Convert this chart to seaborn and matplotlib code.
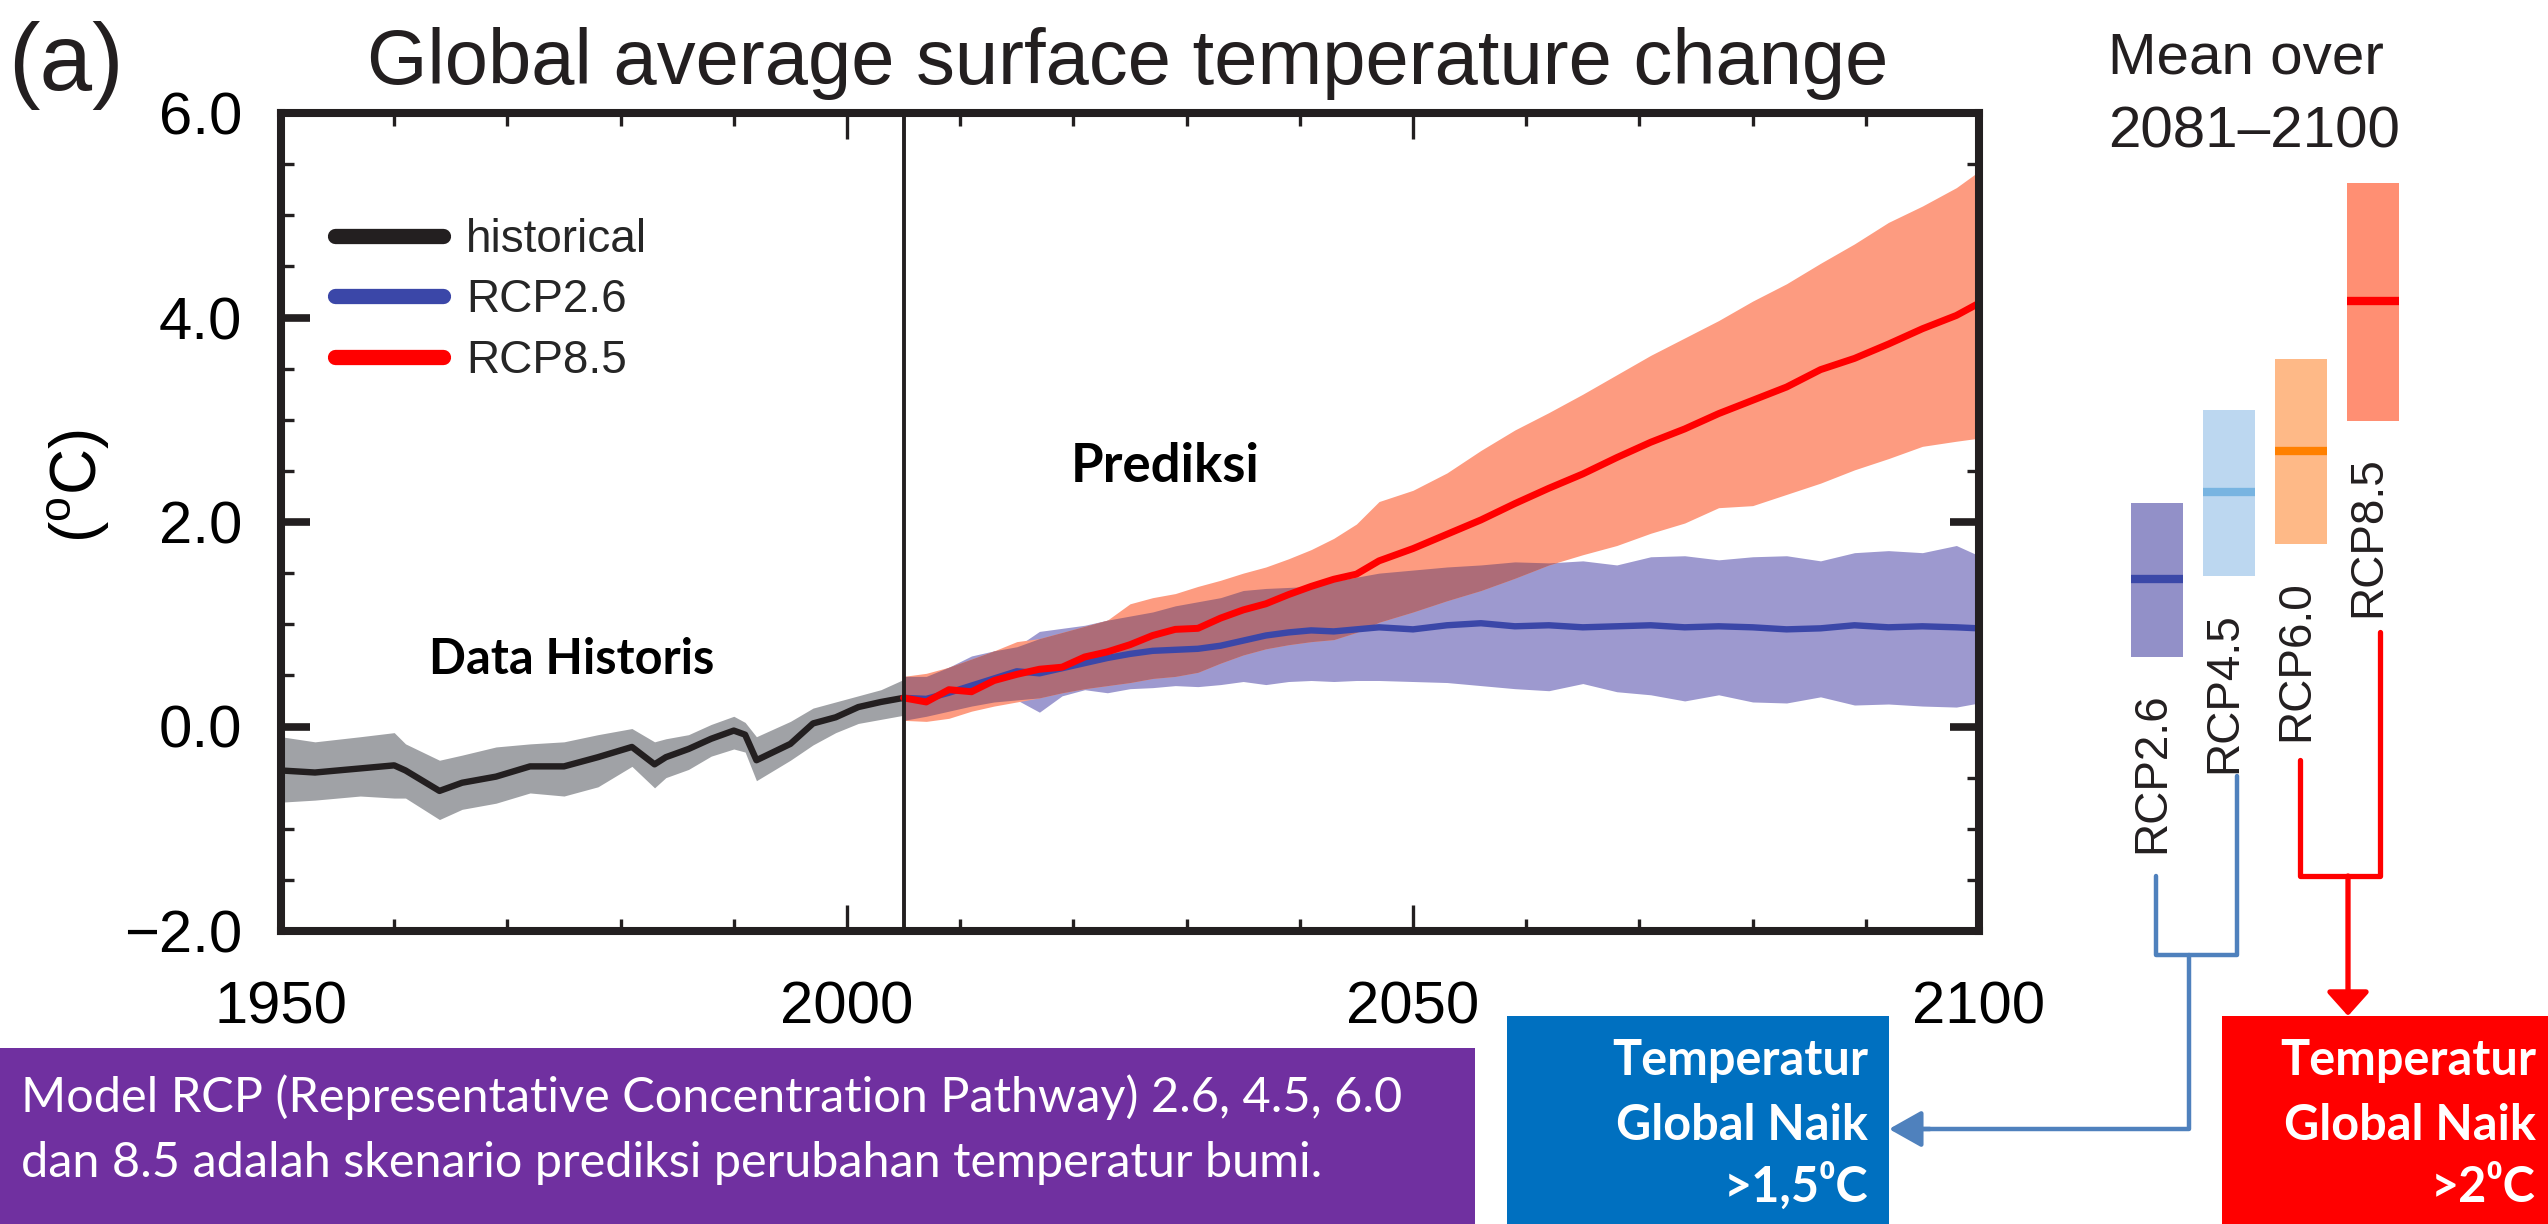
import matplotlib
matplotlib.use("Agg")
import matplotlib.pyplot as plt
from matplotlib.lines import Line2D
from matplotlib.patches import Rectangle
from matplotlib.ticker import MultipleLocator
import numpy as np
import seaborn as sns

# ---- historical (model mean and spread) ----
hist_years = [1950, 1953, 1957, 1960, 1961, 1964, 1966, 1969, 1972, 1975, 1978, 1981, 1983,
              1984, 1986, 1988, 1990, 1991, 1992, 1995, 1997, 1999, 2001, 2003, 2005]
hist_mean = [-0.43, -0.45, -0.41, -0.38, -0.43, -0.63, -0.55, -0.49, -0.39, -0.39, -0.30, -0.20, -0.37,
             -0.30, -0.22, -0.12, -0.04, -0.08, -0.33, -0.17, 0.03, 0.09, 0.19, 0.24, 0.28]
hist_upper = [-0.10, -0.15, -0.10, -0.06, -0.17, -0.33, -0.28, -0.20, -0.17, -0.15, -0.08, -0.02, -0.15,
              -0.12, -0.08, 0.02, 0.10, 0.04, -0.10, 0.05, 0.18, 0.24, 0.30, 0.36, 0.46]
hist_lower = [-0.74, -0.72, -0.68, -0.70, -0.70, -0.91, -0.81, -0.75, -0.65, -0.68, -0.59, -0.39, -0.60,
              -0.50, -0.42, -0.29, -0.22, -0.25, -0.53, -0.33, -0.18, -0.06, 0.03, 0.07, 0.11]

# ---- projections ----
proj_years = [2005, 2007, 2009, 2011, 2013, 2015, 2017, 2019, 2021, 2023, 2025, 2027, 2029, 2031,
              2033, 2035, 2037, 2039, 2041, 2043, 2045, 2047, 2050, 2053, 2056, 2059, 2062, 2065,
              2068, 2071, 2074, 2077, 2080, 2083, 2086, 2089, 2092, 2095, 2098, 2100]
rcp85_mean = [0.28, 0.24, 0.36, 0.34, 0.45, 0.51, 0.56, 0.58, 0.68, 0.73, 0.80, 0.89, 0.95, 0.96,
              1.06, 1.14, 1.20, 1.29, 1.37, 1.44, 1.49, 1.62, 1.74, 1.88, 2.02, 2.18, 2.33, 2.47,
              2.63, 2.78, 2.91, 3.06, 3.19, 3.32, 3.49, 3.60, 3.74, 3.89, 4.02, 4.14]
rcp85_upper = [0.49, 0.52, 0.58, 0.66, 0.74, 0.83, 0.86, 0.92, 0.98, 1.04, 1.20, 1.26, 1.30, 1.37,
               1.43, 1.50, 1.56, 1.64, 1.73, 1.84, 1.98, 2.20, 2.31, 2.48, 2.70, 2.90, 3.07, 3.25,
               3.44, 3.63, 3.80, 3.97, 4.16, 4.33, 4.53, 4.72, 4.93, 5.09, 5.27, 5.43]
rcp85_lower = [0.06, 0.05, 0.08, 0.15, 0.20, 0.24, 0.28, 0.33, 0.37, 0.40, 0.43, 0.47, 0.49, 0.53,
               0.62, 0.70, 0.76, 0.80, 0.83, 0.85, 0.92, 1.02, 1.12, 1.23, 1.33, 1.45, 1.58, 1.68,
               1.77, 1.89, 1.99, 2.14, 2.16, 2.27, 2.38, 2.51, 2.62, 2.74, 2.79, 2.82]
rcp26_mean = [0.28, 0.27, 0.33, 0.40, 0.47, 0.54, 0.52, 0.57, 0.62, 0.67, 0.71, 0.74, 0.75, 0.76,
              0.79, 0.84, 0.89, 0.92, 0.94, 0.93, 0.95, 0.97, 0.95, 0.99, 1.01, 0.98, 0.99, 0.97,
              0.98, 0.99, 0.97, 0.98, 0.97, 0.95, 0.96, 0.99, 0.97, 0.98, 0.97, 0.96]
rcp26_upper = [0.49, 0.49, 0.58, 0.69, 0.74, 0.78, 0.93, 0.96, 0.99, 1.04, 1.08, 1.12, 1.18, 1.22,
               1.26, 1.33, 1.35, 1.36, 1.37, 1.42, 1.46, 1.50, 1.53, 1.56, 1.58, 1.61, 1.60, 1.62,
               1.58, 1.66, 1.67, 1.63, 1.66, 1.67, 1.62, 1.70, 1.72, 1.70, 1.77, 1.67]
rcp26_lower = [0.06, 0.10, 0.15, 0.20, 0.24, 0.26, 0.14, 0.30, 0.36, 0.33, 0.37, 0.38, 0.40, 0.39,
               0.41, 0.44, 0.41, 0.44, 0.45, 0.44, 0.45, 0.45, 0.44, 0.43, 0.40, 0.37, 0.35, 0.42,
               0.34, 0.31, 0.25, 0.31, 0.24, 0.23, 0.29, 0.21, 0.22, 0.20, 0.19, 0.23]

# ---- mean over 2081-2100 ----
scen_names = ["RCP2.6", "RCP4.5", "RCP6.0", "RCP8.5"]
scen_low = [0.68, 1.47, 1.78, 2.99]
scen_high = [2.19, 3.10, 3.59, 5.32]
scen_mean = [1.44, 2.29, 2.69, 4.16]
scen_fill = ["#9290c8", "#bcd7f0", "#feb987", "#ff8f73"]
scen_line = ["#3b48a8", "#78b4e1", "#ff8000", "#ff0000"]

xtick_vals = [1950, 2000, 2050, 2100]
xtick_labels = ["1950", "2000", "2050", "2100"]
ytick_vals = [-2, 0, 2, 4, 6]
ytick_labels = ["\u22122.0", "0.0", "2.0", "4.0", "6.0"]

INK = "#231f20"
W, H = 2548, 1224

sns.set_theme(style="white")
plt.rcParams["font.family"] = ["Liberation Sans", "DejaVu Sans"]
plt.rcParams["mathtext.fontset"] = "custom"
plt.rcParams["mathtext.rm"] = "Liberation Sans"

fig = plt.figure(figsize=(W / 100, H / 100), dpi=100)
ax_rect = [281 / W, (H - 931) / H, 1698 / W, 818 / H]
ax = fig.add_axes(ax_rect)

# bands
ax.fill_between(hist_years, hist_lower, hist_upper, color="#a0a2a6", lw=0)
ax.fill_between(proj_years, rcp26_lower, rcp26_upper, color="#9d99cf", lw=0)
ax.fill_between(proj_years, rcp85_lower, rcp85_upper, color="#fd9b80", lw=0)
ov_lo = np.maximum(rcp26_lower, rcp85_lower)
ov_hi = np.minimum(rcp26_upper, rcp85_upper)
ax.fill_between(proj_years, ov_lo, ov_hi, where=ov_hi > ov_lo, interpolate=True,
                color="#ad6c78", lw=0)

# lines
sns.lineplot(x=hist_years, y=hist_mean, color=INK, lw=4.6, ax=ax, errorbar=None)
sns.lineplot(x=proj_years, y=rcp26_mean, color="#3b47a8", lw=4.6, ax=ax, errorbar=None)
sns.lineplot(x=proj_years, y=rcp85_mean, color="#ff0000", lw=5.0, ax=ax, errorbar=None)
ax.axvline(2005, color=INK, lw=2.8, zorder=5)

ax.set_xlim(1950, 2100)
ax.set_ylim(-2, 6)
ax.set_xticks(xtick_vals)
ax.set_xticklabels(xtick_labels)
ax.set_yticks(ytick_vals)
ax.set_yticklabels(ytick_labels)
ax.xaxis.set_minor_locator(MultipleLocator(10))
ax.yaxis.set_minor_locator(MultipleLocator(0.5))
ax.tick_params(which="both", direction="in", bottom=True, left=True, top=True, right=True,
               colors=INK, labelsize=43, labelcolor="black")
ax.tick_params(axis="y", which="major", length=21, width=5.5, pad=28)
ax.tick_params(axis="x", which="major", length=19, width=2.4, pad=36)
ax.tick_params(which="minor", length=9, width=2.4)
for s in ax.spines.values():
    s.set_linewidth(5.8)
    s.set_color(INK)
    s.set_capstyle("projecting")
ax.set_xlabel("")
ax.set_ylabel(r"($^{\mathrm{o}}$C)", fontsize=46, color="black")
ax.yaxis.set_label_coords(-0.1, 0.544)

handles = [Line2D([], [], color=INK, lw=11, solid_capstyle="round"),
           Line2D([], [], color="#3b47a8", lw=11, solid_capstyle="round"),
           Line2D([], [], color="#ff0000", lw=11, solid_capstyle="round")]
ax.legend(handles, ["historical", "RCP2.6", "RCP8.5"], loc="upper left",
          bbox_to_anchor=(0.032, 0.872), frameon=False, fontsize=33,
          handlelength=2.35, handletextpad=0.5, labelspacing=0.36,
          borderpad=0, borderaxespad=0)

ax.text(2028.1, 2.54, "Prediksi", family=["Lato", "DejaVu Sans"], weight="bold",
        fontsize=38, ha="center", va="center", color="black")
ax.text(1975.7, 0.66, "Data Historis", family=["Lato", "DejaVu Sans"], weight="bold",
        fontsize=35, ha="center", va="center", color="black")

# titles
fig.text(8 / W, 1 - 90 / H, "(a)", fontsize=68, color=INK, va="baseline", ha="left")
fig.text(367 / W, 1 - 84 / H, "Global average surface temperature change", fontsize=56,
         color=INK, va="baseline", ha="left")
fig.text(2108 / W, 1 - 74 / H, "Mean over", fontsize=42, color=INK, va="baseline")
fig.text(2108 / W, 1 - 147 / H, "2081\u20132100", fontsize=42, color=INK, va="baseline")

# ---- right panel: 2081-2100 ranges ----
ax2 = fig.add_axes([2121 / W, ax_rect[1], 288 / W, ax_rect[3]])
ax2.set_xlim(-0.5, 3.5)
ax2.set_ylim(-2, 6)
ax2.axis("off")
xs = np.arange(len(scen_names))
heights = np.array(scen_high) - np.array(scen_low)
ax2.bar(xs, heights, bottom=scen_low, width=0.72, color=scen_fill, lw=0)
ax2.hlines(scen_mean, xs - 0.36, xs + 0.36, colors=scen_line, lw=6)
for i, name in enumerate(scen_names):
    ax2.text(i - 0.07, scen_low[i] - 0.35, name, rotation=90, ha="center", va="top",
             fontsize=33, color=INK)

# ---- overlay: connectors and boxes ----
ov = fig.add_axes([0, 0, 1, 1])
ov.set_xlim(0, W)
ov.set_ylim(H, 0)
ov.axis("off")
ov.patch.set_alpha(0)

blue = "#4f81bd"
ov.plot([2156, 2156, 2237, 2237], [876, 955, 955, 776], color=blue, lw=3.2)
ov.plot([2189, 2189, 1910], [955, 1129, 1129], color=blue, lw=3.2)
ov.annotate("", xy=(1889, 1129), xytext=(1930, 1129),
            arrowprops=dict(arrowstyle="-|>,head_length=0.8,head_width=0.45",
                            color=blue, lw=3.2, mutation_scale=25, shrinkA=0, shrinkB=0))
ov.plot([2300, 2300, 2380, 2380], [760, 876, 876, 632], color="#ff0000", lw=3.8)
ov.annotate("", xy=(2348, 1016), xytext=(2348, 876),
            arrowprops=dict(arrowstyle="-|>,head_length=0.58,head_width=0.52",
                            color="#ff0000", lw=3.8, mutation_scale=25, shrinkA=0, shrinkB=0))

ov.add_patch(Rectangle((0, 1048), 1475, 176, color="#7030a0", lw=0))
ov.add_patch(Rectangle((1507, 1016), 382, 208, color="#0070c0", lw=0))
ov.add_patch(Rectangle((2222, 1016), 326, 208, color="#ff0000", lw=0))

box_font = ["Lato", "DejaVu Sans"]
ov.text(21, 1112, "Model RCP (Representative Concentration Pathway) 2.6, 4.5, 6.0",
        family=box_font, fontsize=35, color="white", va="baseline", ha="left")
ov.text(21, 1177, "dan 8.5 adalah skenario prediksi perubahan temperatur bumi.",
        family=box_font, fontsize=35, color="white", va="baseline", ha="left")
for txt, yy in zip(["Temperatur", "Global Naik", ">1,5\u2070C"], [1075, 1140, 1202]):
    ov.text(1868, yy, txt, family=box_font, weight="bold", fontsize=35, color="white",
            va="baseline", ha="right")
for txt, yy in zip(["Temperatur", "Global Naik", ">2\u2070C"], [1075, 1140, 1202]):
    ov.text(2536, yy, txt, family=box_font, weight="bold", fontsize=35, color="white",
            va="baseline", ha="right")

fig.savefig("out.png", dpi=100)
